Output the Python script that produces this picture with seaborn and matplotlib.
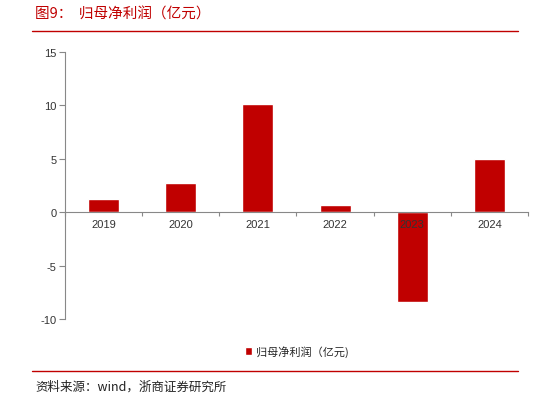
import matplotlib
matplotlib.use("Agg")
import matplotlib.pyplot as plt
import seaborn as sns
import pandas as pd
import numpy as np

years = ["2019", "2020", "2021", "2022", "2023", "2024"]
profit = [1.25, 2.7, 10.1, 0.65, -8.4, 5.0]
legend_label = "归母净利润（亿元)"
title = "图9：  归母净利润（亿元）"
source = "资料来源：wind，浙商证券研究所"
yticks = [-10, -5, 0, 5, 10, 15]

sns.set_theme(style="white")
plt.rcParams['font.family'] = ['Liberation Sans', 'Noto Sans CJK SC', 'DejaVu Sans']

df = pd.DataFrame({"year": years, "value": profit})

fig = plt.figure(figsize=(5.48, 4.02), dpi=100)
ax = fig.add_axes([65/548, 1-320/402, (528-65)/548, (320-53)/402])

red = "#C00000"
sns.barplot(data=df, x="year", y="value", color=red, width=0.4, ax=ax,
            saturation=1, label=legend_label)

ax.set_axisbelow(False)
ax.set_ylim(-10, 15)
ax.set_xlim(-0.5, len(years)-0.5)
ax.set_yticks(yticks)
ax.set_yticklabels([str(t) for t in yticks], fontsize=8, color="#333333")
ax.set_xlabel("")
ax.set_ylabel("")

for s in ["top", "right"]:
    ax.spines[s].set_visible(False)
ax.spines["left"].set_color("#888888")
ax.spines["left"].set_linewidth(0.8)
ax.spines["bottom"].set_position(("data", 0))
ax.spines["bottom"].set_color("#888888")
ax.spines["bottom"].set_linewidth(0.8)

ax.tick_params(axis="y", which="major", left=True, length=4, width=0.8, color="#888888", pad=2)
ax.set_xticks(range(len(years)))
ax.set_xticklabels(years, fontsize=8, color="#333333")
ax.tick_params(axis="x", which="major", bottom=False, length=0, pad=5)
ax.set_xticks(np.arange(-0.5, len(years), 1), minor=True)
ax.tick_params(axis="x", which="minor", bottom=True, length=3, width=0.8, color="#888888", direction="out")
ax.grid(False)

leg = ax.legend(loc="upper center", bbox_to_anchor=(0.5, -0.06), frameon=False,
                handlelength=0.7, handleheight=0.7, handletextpad=0.3,
                prop={'family': ['Noto Sans CJK SC', 'DejaVu Sans'], 'size': 8})

fig.text(35/548, 1-15/402, title, color=red, fontsize=10.5,
         family=['Noto Sans CJK SC', 'DejaVu Sans'], va="center", ha="left")
fig.add_artist(plt.Line2D([32/548, 518/548], [1-31.5/402, 1-31.5/402], color=red, lw=1.0))
fig.add_artist(plt.Line2D([32/548, 518/548], [1-371.5/402, 1-371.5/402], color=red, lw=1.0))
fig.text(35/548, 1-387/402, source, color="#222222", fontsize=9,
         family=['Noto Sans CJK SC', 'DejaVu Sans'], va="center", ha="left")

fig.savefig("out.png", dpi=100)
